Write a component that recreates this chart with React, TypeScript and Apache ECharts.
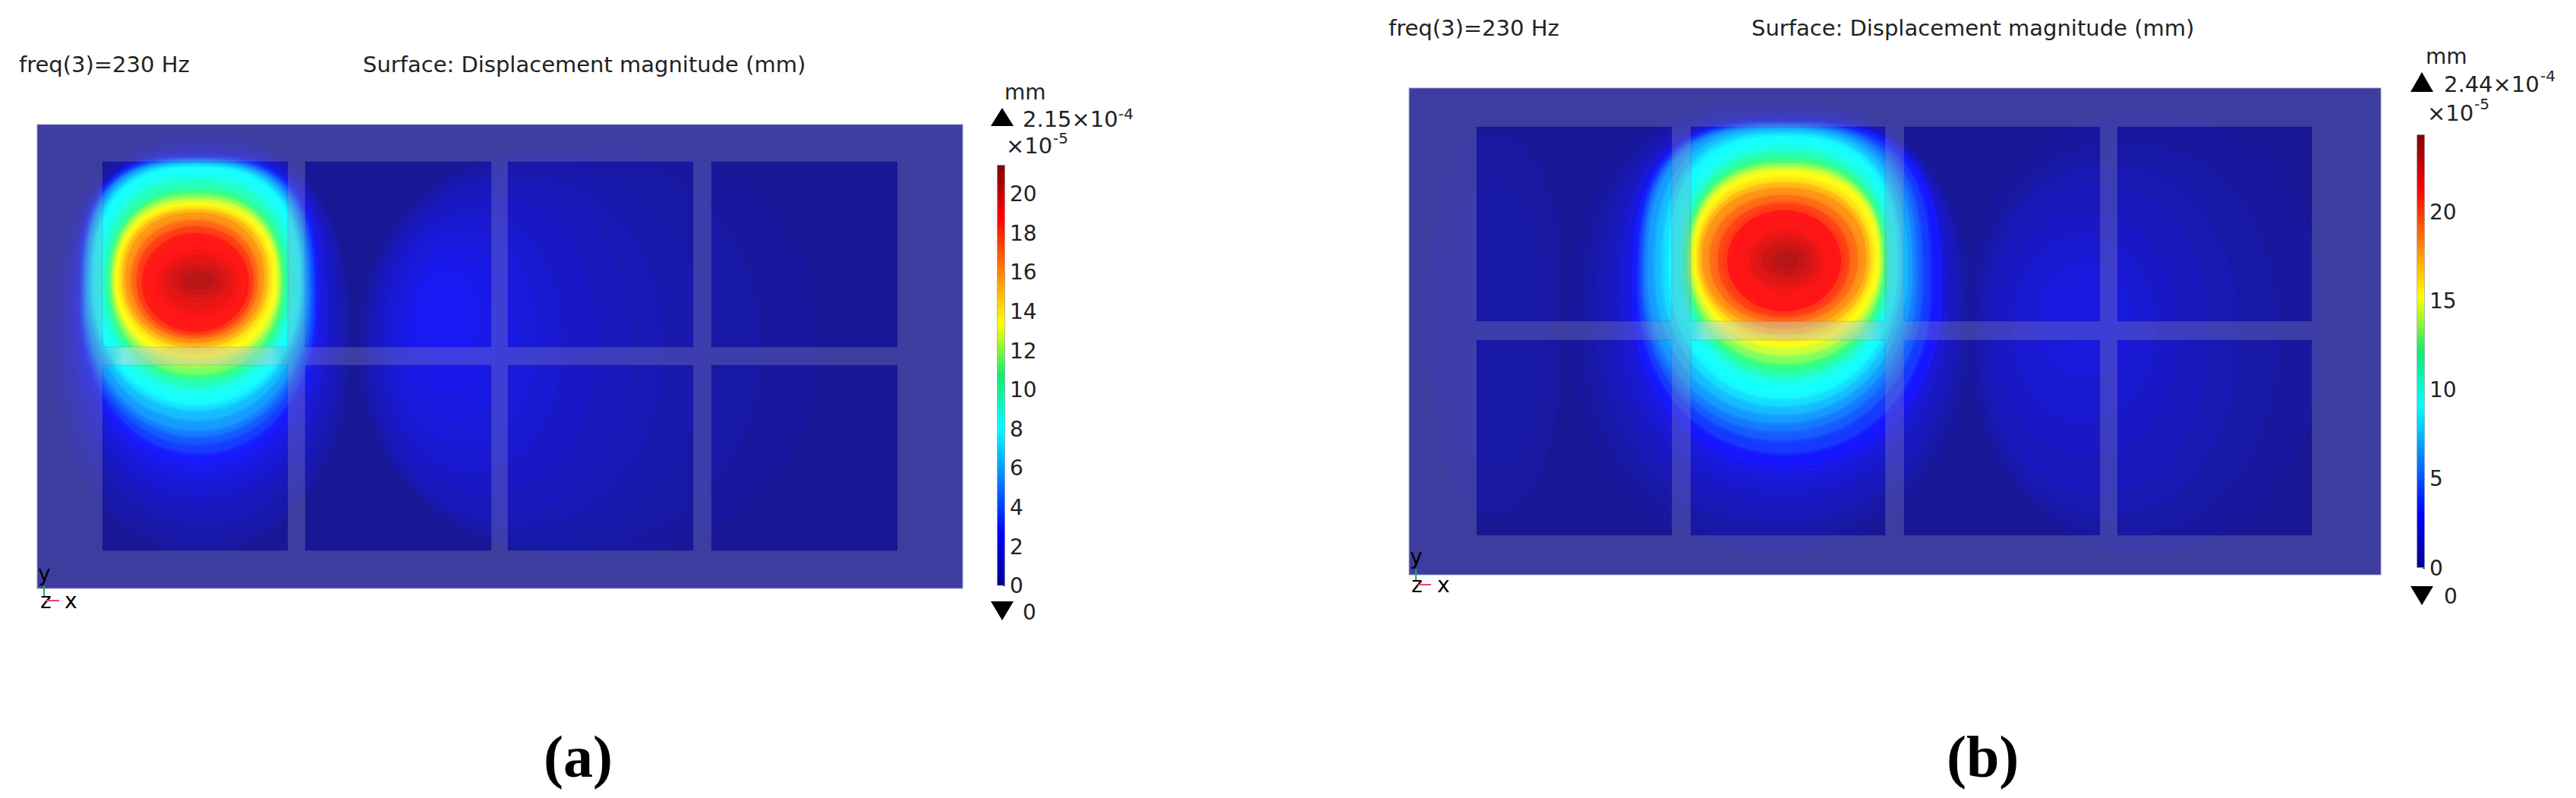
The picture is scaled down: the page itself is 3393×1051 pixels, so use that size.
import React, { useEffect, useRef } from "react";
import * as echarts from "echarts";

// Plate geometry, in picture units along each panel's own axes
const frameA = [49, 1268, 164, 775];
const columnsA = [[135, 379], [402, 647], [669, 913], [937, 1182]];
const rowsA = [[213, 457], [481, 725]];
const frameB = [1856, 3136, 116, 757];
const columnsB = [[1945, 2202], [2227, 2483], [2508, 2766], [2789, 3045]];
const rowsB = [[167, 423], [448, 705]];
const ribGlowA = [[146, 372, 457, 481]];
const ribGlowB = [[2226, 2480, 423, 448]];

// Contours: value (x10^-5 mm), left, right, top, bottom, squareness
const sideLobeA = [
  [0.2, 472, 1080, 190, 735, 2.3],
  [0.4, 476, 1000, 200, 725, 2.3],
  [0.6, 480, 930, 215, 710, 2.2],
  [0.8, 485, 875, 228, 695, 2.2],
  [1.0, 490, 830, 240, 680, 2.2],
  [1.25, 497, 785, 260, 650, 2.2],
  [1.5, 505, 740, 280, 620, 2.1],
  [1.75, 514, 710, 300, 588, 2.1],
  [2.0, 525, 680, 320, 555, 2],
  [2.2, 535, 655, 338, 518, 2],
  [2.4, 545, 630, 355, 480, 2],
];
const mainLobeA = [
  [0.25, 65, 462, 175, 728, 2.4],
  [0.5, 75, 458, 185, 715, 2.5],
  [0.75, 82, 452, 190, 697, 2.6],
  [1.0, 88, 446, 195, 682, 2.7],
  [1.3, 92, 440, 198, 665, 2.8],
  [1.6, 96, 433, 201, 650, 2.9],
  [2.0, 101, 427, 204, 632, 3],
  [2.35, 104, 421, 206, 620, 3],
  [2.7, 107, 417, 208, 610, 3],
  [3.4, 109, 414, 210, 597, 3],
  [4.0, 111, 410, 212, 585, 3],
  [4.7, 112, 407, 213, 575, 3],
  [5.4, 114, 404, 214, 567, 2.9],
  [6.1, 118, 400, 216, 553, 2.8],
  [6.8, 121, 397, 218, 540, 2.7],
  [7.4, 123, 395, 220, 533, 2.6],
  [8.06, 125, 393, 222, 527, 2.6],
  [8.8, 130, 387, 228, 520, 2.5],
  [9.7, 137, 381, 238, 510, 2.5],
  [10.75, 144, 375, 250, 500, 2.4],
  [11.6, 147, 370, 256, 493, 2.4],
  [12.5, 150, 367, 262, 482, 2.4],
  [13.4, 152, 364, 267, 473, 2.3],
  [14.3, 157, 358, 272, 465, 2.3],
  [15.2, 161, 353, 276, 458, 2.3],
  [16.1, 165, 348, 280, 452, 2.2],
  [17, 173, 340, 290, 446, 2.1],
  [17.9, 180, 334, 298, 441, 2.1],
  [18.8, 187, 328, 307, 437, 2],
  [19.3, 199, 320, 320, 425, 2],
  [19.8, 212, 310, 335, 410, 2],
  [20.3, 226, 298, 348, 392, 2],
  [20.8, 240, 285, 358, 382, 2],
];
const sideLobeB = [
  [0.3, 1880, 2060, 180, 680, 2.5],
  [0.5, 1900, 2040, 240, 620, 2.2],
  [0.25, 2590, 3060, 150, 730, 2.4],
  [0.5, 2600, 3000, 190, 705, 2.3],
  [0.8, 2605, 2950, 215, 680, 2.2],
  [1.1, 2615, 2910, 245, 650, 2.2],
  [1.4, 2630, 2870, 280, 600, 2.1],
  [1.7, 2650, 2840, 310, 555, 2.1],
  [2.0, 2680, 2810, 340, 500, 2],
  [2.2, 2700, 2790, 365, 460, 2],
];
const mainLobeB = [
  [0.25, 2065, 2600, 130, 730, 2.4],
  [0.5, 2085, 2590, 140, 715, 2.5],
  [0.8, 2100, 2585, 145, 695, 2.6],
  [1.1, 2115, 2578, 150, 680, 2.7],
  [1.4, 2125, 2570, 153, 662, 2.8],
  [1.7, 2133, 2565, 156, 648, 2.9],
  [2.0, 2140, 2560, 158, 635, 3],
  [2.5, 2147, 2557, 160, 623, 3],
  [3.05, 2152, 2555, 163, 613, 3],
  [3.8, 2158, 2543, 164, 597, 3],
  [4.6, 2163, 2532, 166, 580, 3],
  [5.3, 2166, 2525, 167, 568, 2.9],
  [6.1, 2170, 2519, 168, 557, 2.8],
  [6.9, 2180, 2512, 171, 546, 2.7],
  [7.7, 2190, 2505, 175, 535, 2.6],
  [8.4, 2198, 2500, 179, 525, 2.6],
  [9.15, 2206, 2496, 183, 517, 2.5],
  [10.1, 2212, 2492, 190, 507, 2.5],
  [11.1, 2217, 2487, 199, 497, 2.4],
  [12.2, 2222, 2483, 208, 488, 2.4],
  [13.2, 2225, 2480, 215, 479, 2.4],
  [14.2, 2228, 2477, 220, 468, 2.4],
  [15.25, 2231, 2474, 225, 457, 2.3],
  [16.3, 2235, 2468, 233, 449, 2.3],
  [17.3, 2238, 2463, 240, 441, 2.2],
  [18.3, 2242, 2458, 247, 433, 2.2],
  [19.3, 2252, 2447, 257, 425, 2.1],
  [20.3, 2263, 2436, 267, 418, 2.1],
  [21.35, 2275, 2425, 277, 410, 2],
  [22, 2290, 2412, 292, 396, 2],
  [22.6, 2305, 2398, 307, 380, 2],
  [23.2, 2320, 2385, 320, 366, 2],
  [23.7, 2335, 2370, 331, 355, 2],
];

// Colour bars
const maxA = 21.5;
const maxB = 24.4;
const tickStepA = 2;
const tickStepB = 5;
const jetStops: [number, number[]][] = [
  [0, [0, 0, 143]],
  [0.125, [0, 0, 255]],
  [0.375, [0, 255, 255]],
  [0.5, [20, 235, 110]],
  [0.625, [255, 255, 0]],
  [0.875, [255, 0, 0]],
  [1, [128, 0, 0]],
];
const FONT = "DejaVu Sans";

function jet(t: number): number[] {
  for (let i = 1; i < jetStops.length; i++) {
    const [t1, c1] = jetStops[i];
    const [t0, c0] = jetStops[i - 1];
    if (t <= t1) {
      const k = (t - t0) / (t1 - t0);
      return c0.map((c, j) => c + (c1[j] - c) * k);
    }
  }
  return jetStops[jetStops.length - 1][1];
}
const lit = (t: number) => {
  if (t < 0.125) {
    const k = t / 0.125;
    return `rgb(${Math.round(24 + k)},${Math.round(24 + k)},${Math.round(150 + 105 * k)})`;
  }
  const c = jet(t);
  return `rgb(${c.map((v) => Math.min(255, Math.round(v + 25))).join(",")})`;
};

function contourSeries(rows: number[][], max: number, idx: number, z: number) {
  return {
    type: "custom",
    xAxisIndex: idx,
    yAxisIndex: idx,
    clip: true,
    silent: true,
    z,
    data: rows,
    encode: { x: [1, 2], y: [3, 4] },
    renderItem: (_: any, api: any) => {
      const v = api.value(0), l = api.value(1), r = api.value(2), t = api.value(3), b = api.value(4), n = api.value(5);
      const cx = (l + r) / 2, cy = (t + b) / 2, rx = (r - l) / 2, ry = (b - t) / 2;
      const points: number[][] = [];
      for (let i = 0; i < 120; i++) {
        const a = (i / 120) * Math.PI * 2;
        const c = Math.cos(a), s = Math.sin(a);
        const e = s < 0 ? n : Math.min(n, 2.1);
        points.push(
          api.coord([
            cx + rx * Math.sign(c) * Math.pow(Math.abs(c), 2 / e),
            cy + ry * Math.sign(s) * Math.pow(Math.abs(s), 2 / e),
          ])
        );
      }
      const fill = lit(v / max);
      const style: any = v < 3 ? { fill } : { fill, shadowBlur: 8, shadowColor: fill };
      return { type: "polygon", shape: { points }, style };
    },
  };
}

function rectSeries(rows: number[][], idx: number, z: number, style: any) {
  return {
    type: "custom",
    xAxisIndex: idx,
    yAxisIndex: idx,
    silent: true,
    z,
    data: rows,
    encode: { x: [0, 1], y: [2, 3] },
    renderItem: (_: any, api: any) => {
      const p0 = api.coord([api.value(0), api.value(2)]);
      const p1 = api.coord([api.value(1), api.value(3)]);
      return { type: "rect", shape: { x: p0[0], y: p0[1], width: p1[0] - p0[0], height: p1[1] - p0[1] }, style };
    },
  };
}

function ribs(frame: number[], cols: number[][], rows: number[][]) {
  const out: number[][] = [];
  const hs = [frame[2], rows[0][1], rows[1][1]];
  const he = [rows[0][0], rows[1][0], frame[3]];
  hs.forEach((h, i) => out.push([frame[0], frame[1], h, he[i]]));
  const vs = [frame[0], cols[0][1], cols[1][1], cols[2][1], cols[3][1]];
  const ve = [cols[0][0], cols[1][0], cols[2][0], cols[3][0], frame[1]];
  rows.forEach((r) => vs.forEach((x, i) => out.push([x, ve[i], r[0], r[1]])));
  return out;
}
function windows(cols: number[][], rows: number[][]) {
  const out: number[][] = [];
  rows.forEach((r) => cols.forEach((c) => out.push([c[0], c[1], r[0], r[1]])));
  return out;
}

const glowFill = new echarts.graphic.LinearGradient(0, 0, 1, 0, [
  { offset: 0, color: "rgba(255,255,255,0)" },
  { offset: 0.08, color: "rgba(255,255,255,0.32)" },
  { offset: 0.3, color: "rgba(255,255,255,0.16)" },
  { offset: 0.7, color: "rgba(255,255,255,0.16)" },
  { offset: 0.92, color: "rgba(255,255,255,0.22)" },
  { offset: 1, color: "rgba(255,255,255,0)" },
]);

function panelSeries(frame: number[], cols: number[][], rows: number[][], side: number[][], main: number[][], glow: number[][], max: number, idx: number) {
  return [
    rectSeries([frame], idx, 1, { fill: "rgb(24,24,150)" }),
    contourSeries(side, max, idx, 2),
    contourSeries(main, max, idx, 3),
    rectSeries(ribs(frame, cols, rows), idx, 4, { fill: "rgba(150,150,185,0.3)" }),
    rectSeries(glow, idx, 5, { fill: glowFill }),
    rectSeries(windows(cols, rows), idx, 5, { fill: "none", stroke: "rgba(15,15,110,0.14)", lineWidth: 1 }),
    rectSeries([frame], idx, 6, { fill: "none", stroke: "rgba(150,150,190,0.6)", lineWidth: 1.5 }),
  ];
}

function colorBar(max: number, idx: number) {
  return {
    type: "bar",
    xAxisIndex: idx,
    yAxisIndex: idx,
    barWidth: "100%",
    silent: true,
    data: [max],
    itemStyle: {
      borderColor: "rgba(150,150,170,0.6)",
      borderWidth: 1,
      color: new echarts.graphic.LinearGradient(0, 1, 0, 0, jetStops.map(([offset, c]) => ({ offset, color: `rgb(${c.join(",")})` }))),
    },
  };
}

const plotAxis = (frame: number[], dim: "x" | "y", grid: number) =>
  dim === "x"
    ? { type: "value", gridIndex: grid, min: frame[0], max: frame[1], show: false }
    : { type: "value", gridIndex: grid, min: frame[2], max: frame[3], inverse: true, show: false };

const barY = (max: number, step: number, grid: number) => ({
  type: "value",
  gridIndex: grid,
  min: 0,
  max,
  interval: step,
  position: "right",
  splitLine: { show: false },
  axisLine: { show: false },
  axisTick: { show: true, inside: true, length: 3, lineStyle: { color: "#333", width: 1 } },
  axisLabel: { margin: 6, fontFamily: FONT, fontSize: 28, color: "#222", showMaxLabel: false, hideOverlap: false },
});

const txt = (text: string, x: number, y: number, fontSize = 28, extra: any = {}) => ({
  type: "text",
  x,
  y,
  z: 100,
  silent: true,
  style: { text, fontFamily: FONT, fontSize, fill: "#222", verticalAlign: "middle", ...extra },
});
const tri = (points: number[][]) => ({ type: "polygon", z: 100, silent: true, shape: { points }, style: { fill: "#000" } });
const seg = (x1: number, y1: number, x2: number, y2: number, stroke: string) => ({
  type: "line",
  silent: true,
  z: 100,
  shape: { x1, y1, x2, y2 },
  style: { stroke, lineWidth: 2 },
});

const graphics = [
  txt("freq(3)=230 Hz", 25, 85, 29),
  txt("Surface: Displacement magnitude (mm)", 478, 85, 29),
  txt("mm", 1323, 121),
  tri([[1305, 166], [1335, 166], [1320, 142]]),
  txt("2.15×10", 1347, 157, 29),
  txt("-4", 1473, 150, 20),
  txt("×10", 1325, 192, 29),
  txt("-5", 1387, 182, 20),
  tri([[1305, 792], [1335, 792], [1320, 817]]),
  txt("0", 1347, 806),
  txt("y", 50, 755, 28, { fill: "#000" }),
  txt("z", 53, 791, 28, { fill: "#000" }),
  txt("x", 85, 791, 28, { fill: "#000" }),
  seg(58, 772, 58, 785, "#2aa85a"),
  seg(61, 791, 78, 791, "#f0407a"),
  txt("(a)", 716, 996, 78, { fontFamily: "Liberation Serif", fontWeight: "bold", fill: "#000" }),

  txt("freq(3)=230 Hz", 1829, 37, 29),
  txt("Surface: Displacement magnitude (mm)", 2307, 37, 29),
  txt("mm", 3195, 74),
  tri([[3175, 121], [3205, 121], [3190, 95]]),
  txt("2.44×10", 3219, 111, 29),
  txt("-4", 3346, 100, 20),
  txt("×10", 3197, 149, 29),
  txt("-5", 3259, 137, 20),
  tri([[3175, 772], [3205, 772], [3190, 797]]),
  txt("0", 3219, 785),
  txt("y", 1857, 733, 28, { fill: "#000" }),
  txt("z", 1859, 770, 28, { fill: "#000" }),
  txt("x", 1893, 770, 28, { fill: "#000" }),
  seg(1865, 750, 1865, 764, "#2aa85a"),
  seg(1868, 770, 1885, 770, "#f0407a"),
  txt("(b)", 2564, 996, 78, { fontFamily: "Liberation Serif", fontWeight: "bold", fill: "#000" }),
];

export default function App() {
  const ref = useRef<HTMLDivElement>(null);
  useEffect(() => {
    document.body.style.margin = "0";
    const chart = echarts.init(ref.current!, undefined, { renderer: "svg" });
    chart.setOption({
      animation: false,
      backgroundColor: "#fff",
      grid: [
        { left: frameA[0], top: frameA[2], width: frameA[1] - frameA[0], height: frameA[3] - frameA[2] },
        { left: frameB[0], top: frameB[2], width: frameB[1] - frameB[0], height: frameB[3] - frameB[2] },
        { left: 1313, top: 217, width: 11, height: 554.6 },
        { left: 3183, top: 177, width: 11, height: 571 },
      ],
      xAxis: [
        plotAxis(frameA, "x", 0),
        plotAxis(frameB, "x", 1),
        { type: "category", gridIndex: 2, data: [""], show: false },
        { type: "category", gridIndex: 3, data: [""], show: false },
      ],
      yAxis: [
        plotAxis(frameA, "y", 0),
        plotAxis(frameB, "y", 1),
        barY(maxA, tickStepA, 2),
        barY(maxB, tickStepB, 3),
      ],
      series: [
        ...panelSeries(frameA, columnsA, rowsA, sideLobeA, mainLobeA, ribGlowA, maxA, 0),
        ...panelSeries(frameB, columnsB, rowsB, sideLobeB, mainLobeB, ribGlowB, maxB, 1),
        colorBar(maxA, 2),
        colorBar(maxB, 3),
      ],
      graphic: { elements: graphics },
    });
    return () => chart.dispose();
  }, []);
  return <div ref={ref} style={{ position: "absolute", left: 0, top: 0, width: 3393, height: 1051 }} />;
}
